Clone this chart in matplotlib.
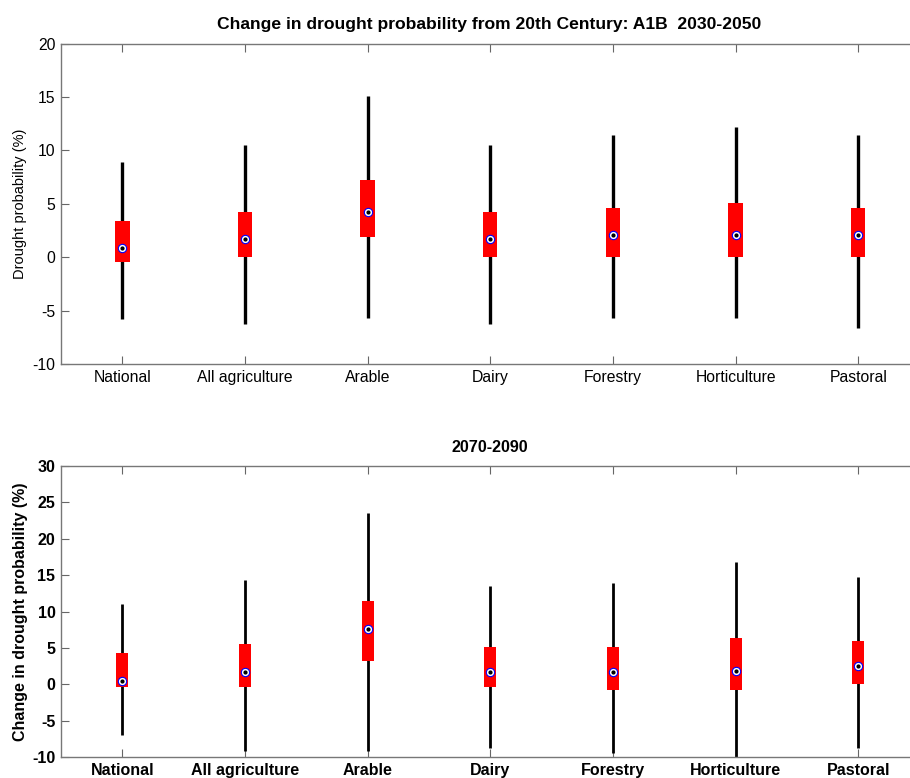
import numpy as np
import matplotlib
matplotlib.use('Agg')
import matplotlib.pyplot as plt

plt.rcParams['font.family'] = ['Liberation Sans', 'DejaVu Sans']
plt.rcParams['axes.unicode_minus'] = False

sectors = ['National', 'All agriculture', 'Arable', 'Dairy', 'Forestry', 'Horticulture', 'Pastoral']

# 2030-2050 spread of change in drought probability (%)
lo_2030 = [-5.8, -6.2, -5.7, -6.2, -5.7, -5.7, -6.6]
q1_2030 = [-0.4, 0.0, 1.9, 0.0, 0.0, 0.0, 0.0]
med_2030 = [0.9, 1.7, 4.2, 1.7, 2.1, 2.1, 2.1]
q3_2030 = [3.4, 4.2, 7.2, 4.2, 4.6, 5.1, 4.6]
hi_2030 = [8.9, 10.5, 15.1, 10.5, 11.4, 12.2, 11.4]

# 2070-2090
lo_2070 = [-6.9, -9.1, -9.1, -8.7, -9.4, -9.9, -8.7]
q1_2070 = [-0.4, -0.4, 3.2, -0.4, -0.7, -0.7, 0.0]
med_2070 = [0.5, 1.7, 7.6, 1.7, 1.7, 1.8, 2.6]
q3_2070 = [4.3, 5.5, 11.4, 5.1, 5.1, 6.4, 6.0]
hi_2070 = [11.0, 14.3, 23.5, 13.5, 13.9, 16.8, 14.7]


def spread_panel(ax, lo, q1, med, q3, hi, box_w, lw, bold, fs):
    x = np.arange(1, len(sectors) + 1)
    ax.vlines(x, lo, hi, color='black', linewidth=lw, zorder=2)
    ax.bar(x, np.array(q3) - np.array(q1), bottom=q1, width=box_w,
           color='red', zorder=3)
    ax.plot(x, med, 'o', ms=6, mfc='white', mec='blue', mew=0.8, zorder=4)
    ax.plot(x, med, 'o', ms=2.0, color='black', zorder=5)
    ax.set_xlim(0.5, len(sectors) + 0.5)
    ax.set_xticks(x)
    weight = 'bold' if bold else 'normal'
    ax.set_xticklabels(sectors, fontweight=weight)
    ax.tick_params(direction='in', length=6, top=True, right=False,
                   color='#666666', labelsize=fs, pad=4)
    for s in ax.spines.values():
        s.set_color('#777777')
        s.set_linewidth(1.0)
    ax.spines['right'].set_visible(False)


fig = plt.figure(figsize=(9.1, 7.78), dpi=100)

ax1 = fig.add_axes([0.067, 0.532, 0.9435, 0.412])
spread_panel(ax1, lo_2030, q1_2030, med_2030, q3_2030, hi_2030, 0.118, 2.4, False, 11.3)
ax1.set_ylim(-10, 20)
ax1.set_yticks(np.arange(-10, 21, 5))
ax1.set_ylabel('Drought probability (%)', fontsize=10.5, labelpad=4)
fig.text(0.538, 0.969, 'Change in drought probability from 20th Century: A1B  2030-2050',
         ha='center', va='center', fontsize=12.6, fontweight='bold')

ax2 = fig.add_axes([0.067, 0.0266, 0.9435, 0.3744])
spread_panel(ax2, lo_2070, q1_2070, med_2070, q3_2070, hi_2070, 0.098, 2.0, True, 11.5)
ax2.set_ylim(-10, 30)
ax2.set_yticks(np.arange(-10, 31, 5))
for lab in ax2.get_yticklabels():
    lab.set_fontweight('bold')
ax2.set_ylabel('Change in drought probability (%)', fontsize=11.5,
               fontweight='bold', labelpad=3)
fig.text(0.538, 0.425, '2070-2090', ha='center', va='center',
         fontsize=11.6, fontweight='bold')

fig.savefig('out.png', dpi=100)
